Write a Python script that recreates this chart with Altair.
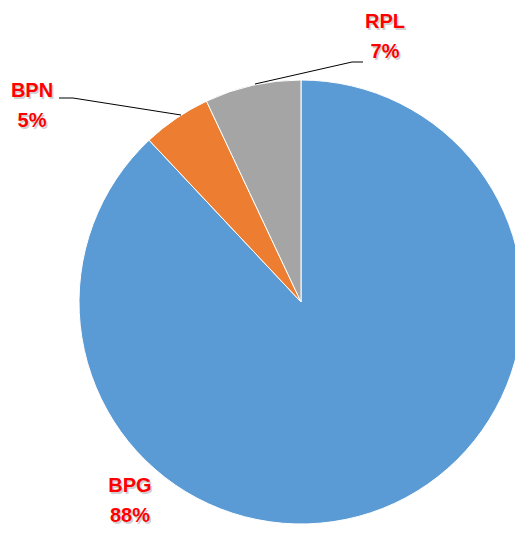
import altair as alt
import pandas as pd

categories = ["BPG", "BPN", "RPL"]
values = [88, 5, 7]
colors = ["#5B9BD5", "#ED7D31", "#A5A5A5"]

# layout (chart pixel coords; page = chart + 8)
CX, CY, R = 293, 294, 222
label_pos = {"BPG": (122, 478), "BPN": (24, 83), "RPL": (377, 14)}
line_gap = 30
leaders = {
    "BPN": [(51, 90), (65, 90), (173, 107)],
    "RPL": [(355, 54), (344, 54), (247, 76)],
}

df = pd.DataFrame({"cat": categories, "val": values, "order": range(len(categories))})
df["pct"] = [f"{v}%" for v in values]
df["lx"] = [label_pos[c][0] for c in categories]
df["ly"] = [label_pos[c][1] for c in categories]
df["ly2"] = df["ly"] + line_gap

pie = alt.Chart(df).mark_arc(stroke="white", strokeWidth=1, radius=R).encode(
    theta=alt.Theta("val:Q", stack=True),
    color=alt.Color("cat:N", scale=alt.Scale(domain=categories, range=colors), legend=None),
    order=alt.Order("order:Q"),
    x=alt.value(CX),
    y=alt.value(CY),
)

seg_rows = []
for name, pts in leaders.items():
    for (x1, y1), (x2, y2) in zip(pts[:-1], pts[1:]):
        seg_rows.append({"name": name, "x1": x1, "y1": y1, "x2": x2, "y2": y2})
segs = pd.DataFrame(seg_rows)
lines = alt.Chart(segs).mark_rule(color="black", strokeWidth=1).encode(
    x=alt.X("x1:Q", scale=None), y=alt.Y("y1:Q", scale=None),
    x2="x2:Q", y2="y2:Q",
)

font = dict(font="Liberation Sans", fontWeight="bold", fontSize=20, align="center", baseline="middle")

def text_layer(field, yfield, color, dx=0, dy=0, opacity=1.0):
    return alt.Chart(df).mark_text(color=color, dx=dx, dy=dy, opacity=opacity, **font).encode(
        x=alt.X("lx:Q", scale=None), y=alt.Y(f"{yfield}:Q", scale=None), text=f"{field}:N"
    )

texts = (
    text_layer("cat", "ly", "#999999", dx=1.5, dy=1.5, opacity=0.45)
    + text_layer("pct", "ly2", "#999999", dx=1.5, dy=1.5, opacity=0.45)
    + text_layer("cat", "ly", "#FF0000")
    + text_layer("pct", "ly2", "#FF0000")
)

chart = alt.layer(pie, lines, texts).properties(
    width=507, height=520,
    autosize=alt.AutoSizeParams(type="none"),
    padding=0,
).configure_view(stroke=None)

chart.save("out.html", embed_options={"renderer": "svg", "actions": False})
